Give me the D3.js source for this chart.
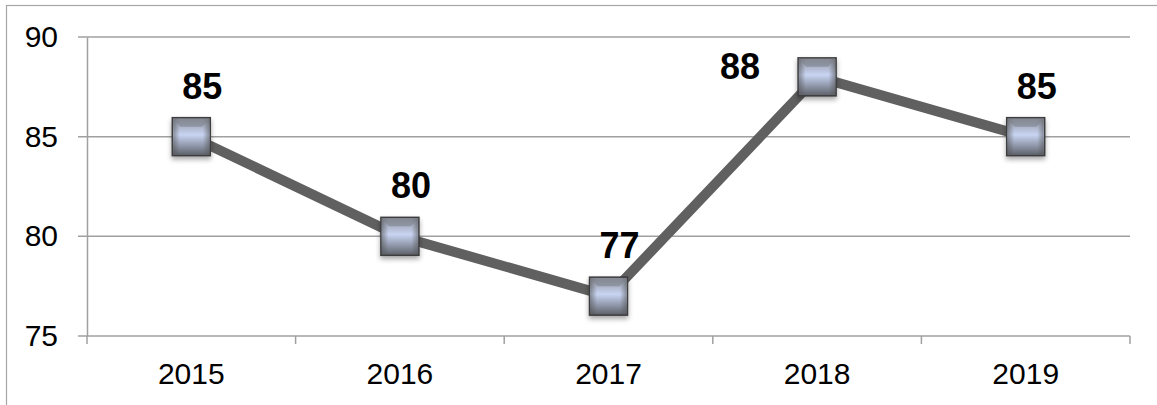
<!DOCTYPE html>
<html>
<head>
<meta charset="utf-8">
<script src="https://cdnjs.cloudflare.com/ajax/libs/d3/7.8.5/d3.min.js"></script>
<style>
  body { margin: 0; background: #fff; }
  svg { display: block; font-family: Arial, "Liberation Sans", sans-serif; }
</style>
</head>
<body>
<script>
// chart data
let years = ["2015", "2016", "2017", "2018", "2019"];
let scores = [85, 80, 77, 88, 85];
let yTicks = [75, 80, 85, 90];

let width = 1157;
let height = 405;
let margin = {top: 37, right: 27, bottom: 69, left: 87};

let svg = d3.select("body")
            .append("svg")
            .attr("width", width)
            .attr("height", height);

let defs = svg.append("defs");

// marker fill
let grad = defs.append("linearGradient")
               .attr("id", "mk")
               .attr("x1", 0).attr("y1", 0)
               .attr("x2", 0).attr("y2", 1);
grad.append("stop").attr("offset", "0%").attr("stop-color", "#8c9099");
grad.append("stop").attr("offset", "45%").attr("stop-color", "#c8d4f2");
grad.append("stop").attr("offset", "100%").attr("stop-color", "#5b5f67");

let side = defs.append("linearGradient")
               .attr("id", "side")
               .attr("x1", 0).attr("y1", 0)
               .attr("x2", 1).attr("y2", 0);
side.append("stop").attr("offset", "0%").attr("stop-color", "#555").attr("stop-opacity", 0.55);
side.append("stop").attr("offset", "18%").attr("stop-color", "#555").attr("stop-opacity", 0);
side.append("stop").attr("offset", "82%").attr("stop-color", "#555").attr("stop-opacity", 0);
side.append("stop").attr("offset", "100%").attr("stop-color", "#555").attr("stop-opacity", 0.55);

let shadow = defs.append("filter")
                 .attr("id", "shadow")
                 .attr("x", "-30%").attr("y", "-30%")
                 .attr("width", "160%").attr("height", "170%");
shadow.append("feDropShadow")
      .attr("dx", 0).attr("dy", 3)
      .attr("stdDeviation", 2.5)
      .attr("flood-color", "#000")
      .attr("flood-opacity", 0.35);

// outer frame
svg.append("rect")
   .attr("x", 6.5)
   .attr("y", 5.5)
   .attr("width", width + 20)
   .attr("height", height + 20)
   .attr("fill", "none")
   .attr("stroke", "#a6a6a6")
   .attr("stroke-width", 1.2);

let x = d3.scaleBand()
          .domain(years)
          .range([margin.left, width - margin.right]);

let y = d3.scaleLinear()
          .domain([75, 90])
          .range([height - margin.bottom, margin.top]);

// gridlines
svg.selectAll(".grid")
   .data(yTicks)
   .enter().append("line")
           .attr("class", "grid")
           .attr("x1", margin.left - 9)
           .attr("x2", width - margin.right)
           .attr("y1", d => y(d))
           .attr("y2", d => y(d))
           .attr("stroke", "#a0a0a0")
           .attr("stroke-width", 1.5);

// y axis
let yAxis = svg.append("g")
               .attr("transform", `translate(${margin.left},0)`)
               .call(d3.axisLeft(y).tickValues(yTicks).tickSize(0).tickPadding(29));
yAxis.select(".domain").attr("stroke", "#a0a0a0").attr("stroke-width", 1.5);
yAxis.selectAll("text").attr("font-size", 30).attr("fill", "#000")
     .attr("font-family", "Arial, 'Liberation Sans', sans-serif");

// x axis with ticks on band edges
let xAxis = svg.append("g")
               .attr("transform", `translate(0,${y(75)})`)
               .call(d3.axisBottom(x).tickSize(0).tickPadding(27));
xAxis.select(".domain").remove();
xAxis.selectAll("text").attr("font-size", 30).attr("fill", "#000")
     .attr("font-family", "Arial, 'Liberation Sans', sans-serif");

let edges = years.map(d => x(d)).concat([x(years[years.length - 1]) + x.bandwidth()]);
svg.selectAll(".xtick")
   .data(edges)
   .enter().append("line")
           .attr("class", "xtick")
           .attr("x1", d => d)
           .attr("x2", d => d)
           .attr("y1", y(75))
           .attr("y2", y(75) + 8)
           .attr("stroke", "#a0a0a0")
           .attr("stroke-width", 1.5);

let cx = (d, i) => x(years[i]) + x.bandwidth() / 2;

// series line
let line = d3.line()
             .x((d, i) => cx(d, i))
             .y(d => y(d));

svg.append("path")
   .datum(scores)
   .attr("d", line)
   .attr("fill", "none")
   .attr("stroke", "#606060")
   .attr("stroke-width", 10)
   .attr("stroke-linejoin", "round");

// markers
let s = 38;
let mk = svg.selectAll(".mk")
            .data(scores)
            .enter().append("g")
                    .attr("class", "mk")
                    .attr("transform", (d, i) => `translate(${cx(d, i)},${y(d)})`);
mk.append("rect")
  .attr("x", -s / 2).attr("y", -s / 2)
  .attr("width", s).attr("height", s)
  .attr("fill", "url(#mk)")
  .attr("stroke", "#3c3c3c")
  .attr("stroke-width", 1.5)
  .attr("filter", "url(#shadow)");
mk.append("rect")
  .attr("x", -s / 2 + 1).attr("y", -s / 2 + 1)
  .attr("width", s - 2).attr("height", s - 2)
  .attr("fill", "url(#side)");
// top bevel
mk.append("path")
  .attr("d", `M${-s / 2 + 1},${-s / 2 + 1}L${s / 2 - 1},${-s / 2 + 1}L${s / 2 - 8},${-s / 2 + 9}L${-s / 2 + 8},${-s / 2 + 9}Z`)
  .attr("fill", "#7d828c")
  .attr("opacity", 0.6);

// data labels
svg.selectAll(".lbl")
   .data(scores)
   .enter().append("text")
           .attr("class", "lbl")
           .attr("x", (d, i) => d === d3.max(scores) ? cx(d, i) - 77 : cx(d, i) + 11)
           .attr("y", (d, i) => d === d3.max(scores) ? y(d) + 2 : y(d) - 38)
           .attr("text-anchor", "middle")
           .attr("font-size", 36)
           .attr("font-weight", "bold")
           .attr("fill", "#000")
           .text(d => d);
</script>
</body>
</html>
